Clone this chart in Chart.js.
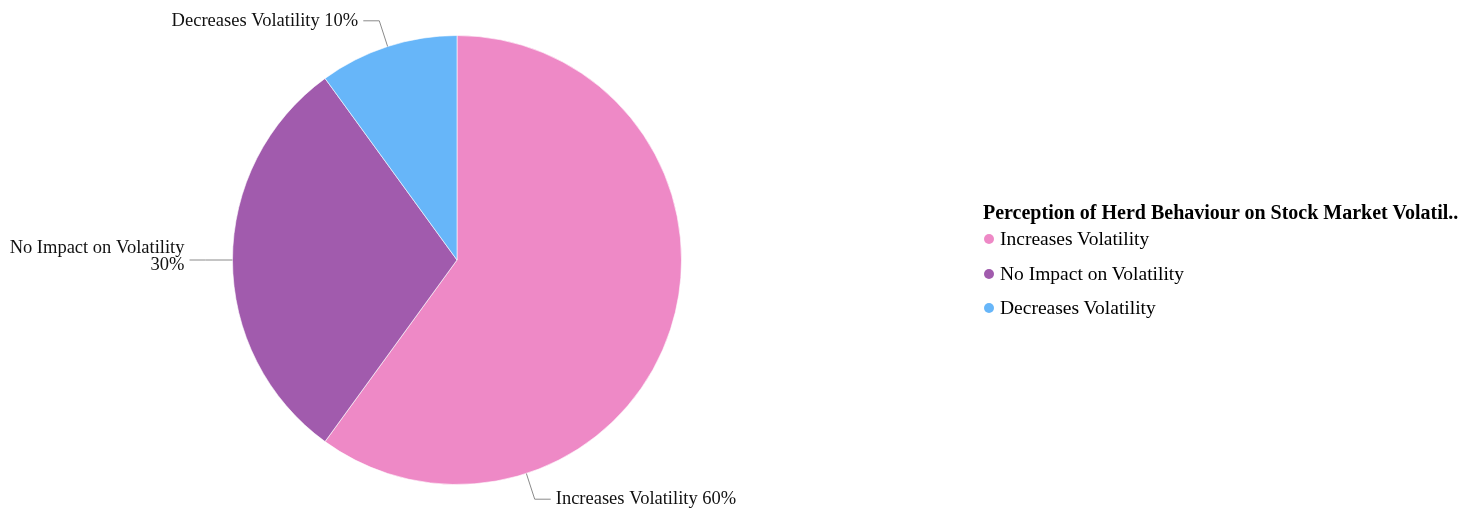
<!DOCTYPE html>
<html>
<head>
<meta charset="utf-8">
<title>Herd behaviour pie</title>
<script src="https://cdn.jsdelivr.net/npm/chart.js@4.4.0/dist/chart.umd.min.js"></script>
<style>
  body { margin: 0; background: #fff; }
  #wrap { position: relative; width: 1478px; height: 512px; }
  #legend { font-family: "Liberation Serif", "Times New Roman", serif; color: #000; }
  #legend .title { position: absolute; left: 983px; top: 200px; line-height: 24px; font-size: 20px; font-weight: bold; white-space: nowrap; }
  #legend ul { position: absolute; left: 984px; top: 222px; margin: 0; padding: 0; list-style: none; }
  #legend li { height: 34.5px; line-height: 34px; font-size: 19.5px; white-space: nowrap; }
  #legend .dot { display: inline-block; width: 10px; height: 10px; border-radius: 50%; margin-right: 6px; vertical-align: 1px; }
</style>
</head>
<body>
<div id="wrap">
  <canvas id="pieChart" width="1478" height="512"></canvas>
  <div id="legend"></div>
</div>
<script>
const categories = ["Increases Volatility", "No Impact on Volatility", "Decreases Volatility"];
const shares = [60, 30, 10];
const sliceColors = ["#ee89c6", "#a15bad", "#67b6f9"];
const legendTitle = "Perception of Herd Behaviour on Stock Market Volatil..";

// where along each slice the leader line leaves the edge (0 = start, 1 = end)
const labelAnchors = [0.75, 0.5, 0.5];

const outsideLabels = {
    id: "outsideLabels",
    afterDatasetsDraw(chart, args, opts) {
        const ctx = chart.ctx;
        const meta = chart.getDatasetMeta(0);
        const values = chart.data.datasets[0].data;
        const lh = 17;

        ctx.save();
        ctx.font = "18.5px 'Liberation Serif'";
        ctx.fillStyle = "#111";
        ctx.strokeStyle = "#8a8a8a";
        ctx.lineWidth = 1;
        ctx.textBaseline = "middle";

        meta.data.forEach((arc, i) => {
            const p = arc.getProps(["x", "y", "startAngle", "endAngle", "outerRadius"], true);
            const a = p.startAngle + (p.endAngle - p.startAngle) * opts.anchors[i];
            const cos = Math.cos(a), sin = Math.sin(a);
            const x0 = p.x + cos * p.outerRadius;
            const y0 = p.y + sin * p.outerRadius;
            const x1 = p.x + cos * (p.outerRadius + opts.radial);
            const y1 = p.y + sin * (p.outerRadius + opts.radial);
            const dir = cos >= 0 ? 1 : -1;
            const x2 = x1 + dir * opts.elbow;

            ctx.beginPath();
            ctx.moveTo(x0, y0);
            ctx.lineTo(x1, y1);
            ctx.lineTo(x2, y1);
            ctx.stroke();

            const name = chart.data.labels[i];
            const pct = values[i] + "%";
            const full = name + " " + pct;
            const tx = x2 + dir * opts.gap;
            const room = dir < 0 ? tx : chart.width - tx;
            const lines = ctx.measureText(full).width > room ? [name, pct] : [full];

            ctx.textAlign = dir < 0 ? "right" : "left";
            const n = lines.length;
            const top = y1 - (n - 1) * lh / 2 - (n > 1 ? 3 : 0);
            lines.forEach((ln, k) => ctx.fillText(ln, tx, top + k * lh));
        });
        ctx.restore();
    }
};

const htmlLegend = {
    id: "htmlLegend",
    afterUpdate(chart) {
        const box = document.getElementById("legend");
        const items = chart.options.plugins.legend.labels.generateLabels(chart);
        box.innerHTML = `<div class="title">${legendTitle}</div>
        <ul>
            ${items.map((it) => `<li><span class="dot" style="background:${it.fillStyle}"></span>${it.text}</li>`).join("")}
        </ul>`;
    }
};

const ctx = document.getElementById("pieChart").getContext("2d");

const pieChart = new Chart(ctx, {
    type: "pie",
    data: {
        labels: categories,
        datasets: [{
            data: shares,
            backgroundColor: sliceColors,
            borderColor: "rgba(255,255,255,0.6)",
            borderWidth: 1,
        }],
    },
    options: {
        responsive: false,
        animation: false,
        layout: {
            padding: { left: 232, right: 796, top: 35, bottom: 27 },
        },
        plugins: {
            legend: { display: false },
            tooltip: { enabled: false },
            outsideLabels: {
                anchors: labelAnchors,
                radial: 27,
                elbow: 16,
                gap: 5,
            },
        },
    },
    plugins: [outsideLabels, htmlLegend],
});
</script>
</body>
</html>
